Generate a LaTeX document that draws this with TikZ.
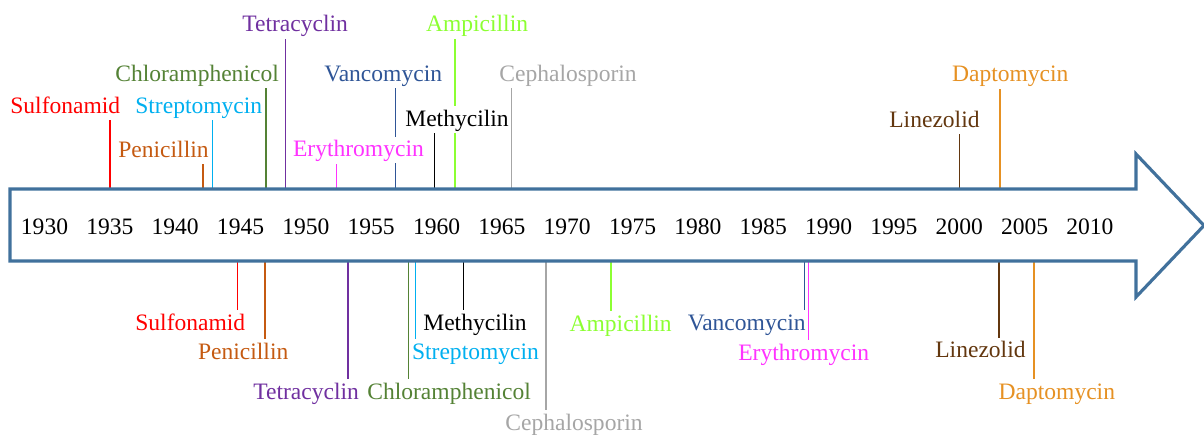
\documentclass[tikz,border=0pt]{standalone}
\usepackage{fontspec}
\setmainfont{Liberation Serif}
\usetikzlibrary{backgrounds}
\begin{document}
\begin{tikzpicture}[x=0.02cm, y=-0.02cm,
	drug/.style={font=\fontsize{13.4}{16}\selectfont, fill=white, inner xsep=0pt, inner ysep=1pt, text height=10.2pt, text depth=2.7pt, anchor=base west},
	yearlabel/.style={font=\fontsize{13.4}{16}\selectfont, anchor=base},
	tick/.style={line width=0.9pt}]
	% Define custom colors
	\definecolor{arrowline}{RGB}{65, 113, 156}
	\definecolor{sulfa}{RGB}{255, 0, 0}
	\definecolor{peni}{RGB}{197, 90, 17}
	\definecolor{strep}{RGB}{0, 176, 240}
	\definecolor{chlor}{RGB}{84, 130, 53}
	\definecolor{tetra}{RGB}{112, 48, 160}
	\definecolor{eryth}{RGB}{255, 51, 255}
	\definecolor{vanco}{RGB}{47, 85, 151}
	\definecolor{ampi}{RGB}{140, 255, 50}
	\definecolor{cepha}{RGB}{166, 166, 166}
	\definecolor{linez}{RGB}{99, 55, 15}
	\definecolor{dapto}{RGB}{230, 145, 35}
	\useasboundingbox (0, 0) rectangle (1204, 434);
	% the time arrow
	\coordinate (A) at (10, 189);
	\coordinate (B) at (1136, 189);
	\coordinate (C) at (1136, 154);
	\coordinate (D) at (1204, 225.5);
	\coordinate (E) at (1136, 297);
	\coordinate (F) at (1136, 261);
	\coordinate (G) at (10, 261);
	\draw[arrowline, line width=1.8pt] (A) -- (B) -- (C) -- (D) -- (E) -- (F) -- (G) -- cycle;
	\foreach \yr [count=\i from 0] in {1930, 1935, ..., 2010}
		\node[yearlabel] (y\yr) at ({44.5 + \i*65.34}, 234.5) {\yr};
	% labels above the arrow
	\node[drug, text=sulfa] (upSulf) at (10, 113) {Sulfonamid};
	\node[drug, text=peni] (upPeni) at (118, 157) {Penicillin};
	\node[drug, text=strep] (upStrep) at (135, 113.3) {Streptomycin};
	\node[drug, text=chlor] (upChlor) at (115, 81) {Chloramphenicol};
	\node[drug, text=tetra] (upTetra) at (242, 31.7) {Tetracyclin};
	\node[drug, text=eryth] (upEryth) at (292.7, 156.7) {Erythromycin};
	\node[drug, text=vanco] (upVanco) at (324, 81) {Vancomycin};
	\node[drug, text=black] (upMethy) at (405, 126) {Methycilin};
	\node[drug, text=ampi] (upAmpi) at (425.7, 31.7) {Ampicillin};
	\node[drug, text=cepha] (upCepha) at (499, 81) {Cephalosporin};
	\node[drug, text=linez] (upLinez) at (889, 127.3) {Linezolid};
	\node[drug, text=dapto] (upDapto) at (951.7, 81.7) {Daptomycin};
	% labels below the arrow
	\node[drug, text=sulfa] (dnSulf) at (135, 330) {Sulfonamid};
	\node[drug, text=peni] (dnPeni) at (197.7, 359) {Penicillin};
	\node[drug, text=tetra] (dnTetra) at (253, 399) {Tetracyclin};
	\node[drug, text=chlor] (dnChlor) at (367, 399) {Chloramphenicol};
	\node[drug, text=strep] (dnStrep) at (411.7, 359) {Streptomycin};
	\node[drug, text=black] (dnMethy) at (423, 330) {Methycilin};
	\node[drug, text=cepha] (dnCepha) at (505, 430) {Cephalosporin};
	\node[drug, text=ampi] (dnAmpi) at (569.3, 331) {Ampicillin};
	\node[drug, text=vanco] (dnVanco) at (687.5, 330) {Vancomycin};
	\node[drug, text=eryth] (dnEryth) at (738, 360) {Erythromycin};
	\node[drug, text=linez] (dnLinez) at (935, 357.7) {Linezolid};
	\node[drug, text=dapto] (dnDapto) at (998.3, 399) {Daptomycin};
	% tick points on the arrow
	\coordinate (upSulfT) at (110, 189);
	\coordinate (upPeniT) at (203, 189);
	\coordinate (upStrepT) at (212.3, 189);
	\coordinate (upChlorT) at (266, 189);
	\coordinate (upTetraT) at (285.7, 189);
	\coordinate (upErythT) at (336.7, 189);
	\coordinate (upVancoT) at (395.3, 189);
	\coordinate (upMethyT) at (434.3, 189);
	\coordinate (upAmpiT) at (455, 189);
	\coordinate (upCephaT) at (511.7, 189);
	\coordinate (upLinezT) at (959.3, 189);
	\coordinate (upDaptoT) at (1000, 189);
	\coordinate (dnSulfT) at (237.7, 261);
	\coordinate (dnPeniT) at (265, 261);
	\coordinate (dnTetraT) at (348, 261);
	\coordinate (dnChlorT) at (408.7, 261);
	\coordinate (dnStrepT) at (415.3, 261);
	\coordinate (dnMethyT) at (463.3, 261);
	\coordinate (dnCephaT) at (546, 261);
	\coordinate (dnAmpiT) at (611, 261);
	\coordinate (dnVancoT) at (804.3, 261);
	\coordinate (dnErythT) at (808.3, 261);
	\coordinate (dnLinezT) at (999, 261);
	\coordinate (dnDaptoT) at (1034, 261);
	\begin{pgfonlayer}{background}
		\draw[tick, sulfa] (upSulfT) -- (upSulfT |- upSulf.south);
		\draw[tick, peni] (upPeniT) -- (upPeniT |- upPeni.south);
		\draw[tick, strep] (upStrepT) -- (upStrepT |- upStrep.south);
		\draw[tick, chlor] (upChlorT) -- (upChlorT |- upChlor.south);
		\draw[tick, tetra] (upTetraT) -- (upTetraT |- upTetra.south);
		\draw[tick, eryth] (upErythT) -- (upErythT |- upEryth.south);
		\draw[tick, vanco] (upVancoT) -- (upVancoT |- upVanco.south);
		\draw[tick, black] (upMethyT) -- (upMethyT |- upMethy.south);
		\draw[tick, ampi] (upAmpiT) -- (upAmpiT |- upAmpi.south);
		\draw[tick, cepha] (upCephaT) -- (upCephaT |- upCepha.south);
		\draw[tick, linez] (upLinezT) -- (upLinezT |- upLinez.south);
		\draw[tick, dapto] (upDaptoT) -- (upDaptoT |- upDapto.south);
		\draw[tick, sulfa] (dnSulfT) -- (dnSulfT |- dnSulf.north);
		\draw[tick, peni] (dnPeniT) -- (dnPeniT |- dnPeni.north);
		\draw[tick, tetra] (dnTetraT) -- (dnTetraT |- dnTetra.north);
		\draw[tick, chlor] (dnChlorT) -- (dnChlorT |- dnChlor.north);
		\draw[tick, strep] (dnStrepT) -- (dnStrepT |- dnStrep.north);
		\draw[tick, black] (dnMethyT) -- (dnMethyT |- dnMethy.north);
		\draw[tick, cepha] (dnCephaT) -- (dnCephaT |- dnCepha.north);
		\draw[tick, ampi] (dnAmpiT) -- (dnAmpiT |- dnAmpi.north);
		\draw[tick, vanco] (dnVancoT) -- (dnVancoT |- dnVanco.north);
		\draw[tick, eryth] (dnErythT) -- (dnErythT |- dnEryth.north);
		\draw[tick, linez] (dnLinezT) -- (dnLinezT |- dnLinez.north);
		\draw[tick, dapto] (dnDaptoT) -- (dnDaptoT |- dnDapto.north);
	\end{pgfonlayer}
\end{tikzpicture}
\end{document}
